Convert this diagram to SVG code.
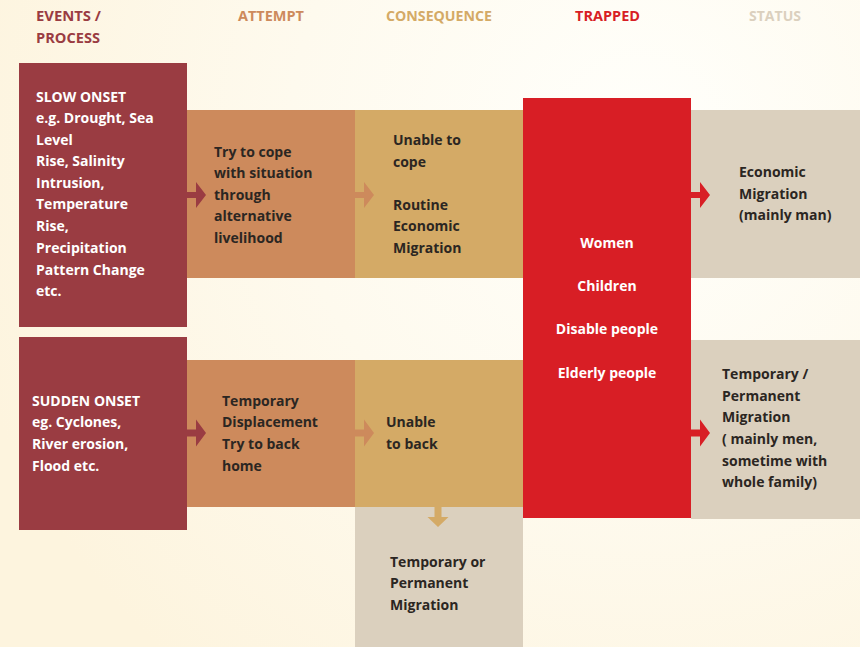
<svg xmlns="http://www.w3.org/2000/svg" width="860" height="647" viewBox="0 0 860 647">
  <defs>
    <radialGradient id="bg" cx="640" cy="140" r="700" gradientUnits="userSpaceOnUse">
      <stop offset="0" stop-color="#FFFFFB"/>
      <stop offset="0.5" stop-color="#FEFAEE"/>
      <stop offset="1" stop-color="#FDF4DE"/>
    </radialGradient>
  </defs>
  <style>
    text { font-family: "Open Sans", "DejaVu Sans", sans-serif; font-weight: 700; font-size: 14px; }
    .head { font-size: 14px; }
    .dark { fill: #2B2622; }
    .light { fill: #FFFFFF; }
    .c-event { fill: #9A3C42; }
    .c-attempt { fill: #CD8A5C; }
    .c-conseq { fill: #D4AA66; }
    .c-trap { fill: #D81E25; }
    .c-status { fill: #DBD0BE; }
  </style>

  <rect width="860" height="647" fill="url(#bg)"/>

  <!-- column headings -->
  <g id="headings" class="head">
    <text class="c-event" x="36" y="21" textLength="65" lengthAdjust="spacingAndGlyphs">EVENTS /</text>
    <text class="c-event" x="36" y="43" textLength="64" lengthAdjust="spacingAndGlyphs">PROCESS</text>
    <text class="c-attempt" x="238" y="21" textLength="66" lengthAdjust="spacingAndGlyphs">ATTEMPT</text>
    <text class="c-conseq" x="386" y="21" textLength="106" lengthAdjust="spacingAndGlyphs">CONSEQUENCE</text>
    <text class="c-trap" x="575" y="21" textLength="65" lengthAdjust="spacingAndGlyphs">TRAPPED</text>
    <text class="c-status" x="749" y="21" textLength="52" lengthAdjust="spacingAndGlyphs">STATUS</text>
  </g>

  <!-- boxes -->
  <g id="status-top">
    <rect class="c-status" x="691" y="110" width="169" height="168"/>
    <text class="dark" x="739" y="177">Economic</text>
    <text class="dark" x="739" y="199">Migration</text>
    <text class="dark" x="739" y="220">(mainly man)</text>
  </g>
  <g id="status-bottom">
    <rect class="c-status" x="691" y="340" width="169" height="179"/>
    <text class="dark" x="722" y="379">Temporary /</text>
    <text class="dark" x="722" y="401">Permanent</text>
    <text class="dark" x="722" y="422">Migration</text>
    <text class="dark" x="722" y="444">( mainly men,</text>
    <text class="dark" x="722" y="466">sometime with</text>
    <text class="dark" x="722" y="487">whole family)</text>
  </g>
  <g id="slow-onset">
    <rect class="c-event" x="19" y="63" width="168" height="264"/>
    <text class="light" x="36" y="102">SLOW ONSET</text>
    <text class="light" x="36" y="123">e.g. Drought, Sea</text>
    <text class="light" x="36" y="145">Level</text>
    <text class="light" x="36" y="166">Rise, Salinity</text>
    <text class="light" x="36" y="188">Intrusion,</text>
    <text class="light" x="36" y="209">Temperature</text>
    <text class="light" x="36" y="231">Rise,</text>
    <text class="light" x="36" y="253">Precipitation</text>
    <text class="light" x="36" y="275">Pattern Change</text>
    <text class="light" x="36" y="296">etc.</text>
  </g>
  <g id="sudden-onset">
    <rect class="c-event" x="19" y="337" width="168" height="193"/>
    <text class="light" x="32" y="406">SUDDEN ONSET</text>
    <text class="light" x="32" y="427">eg. Cyclones,</text>
    <text class="light" x="32" y="449">River erosion,</text>
    <text class="light" x="32" y="471">Flood etc.</text>
  </g>
  <g id="attempt-top">
    <rect class="c-attempt" x="187" y="110" width="168" height="168"/>
    <text class="dark" x="214" y="157">Try to cope</text>
    <text class="dark" x="214" y="178">with situation</text>
    <text class="dark" x="214" y="200">through</text>
    <text class="dark" x="214" y="221">alternative</text>
    <text class="dark" x="214" y="243">livelihood</text>
  </g>
  <g id="attempt-bottom">
    <rect class="c-attempt" x="187" y="360" width="168" height="147"/>
    <text class="dark" x="222" y="406">Temporary</text>
    <text class="dark" x="222" y="427">Displacement</text>
    <text class="dark" x="222" y="449">Try to back</text>
    <text class="dark" x="222" y="471">home</text>
  </g>
  <g id="consequence-top">
    <rect class="c-conseq" x="355" y="110" width="168" height="168"/>
    <text class="dark" x="393" y="145">Unable to</text>
    <text class="dark" x="393" y="167">cope</text>
    <text class="dark" x="393" y="210">Routine</text>
    <text class="dark" x="393" y="231">Economic</text>
    <text class="dark" x="393" y="253">Migration</text>
  </g>
  <g id="consequence-bottom">
    <rect class="c-conseq" x="355" y="360" width="168" height="147"/>
    <text class="dark" x="386" y="427">Unable</text>
    <text class="dark" x="386" y="449">to back</text>
  </g>
  <g id="temporary-or-permanent">
    <rect class="c-status" x="355" y="507" width="168" height="140"/>
    <text class="dark" x="390" y="567">Temporary or</text>
    <text class="dark" x="390" y="588">Permanent</text>
    <text class="dark" x="390" y="610">Migration</text>
  </g>
  <g id="trapped">
    <rect class="c-trap" x="523" y="98" width="168" height="420"/>
    <g class="light" text-anchor="middle">
      <text x="607" y="248">Women</text>
      <text x="607" y="291">Children</text>
      <text x="607" y="334">Disable people</text>
      <text x="607" y="378">Elderly people</text>
    </g>
  </g>

  <!-- connectors -->
  <g id="connectors">
    <path class="c-event" d="M187 192h9v-10l10 13-10 13v-10h-9z"/>
    <path class="c-attempt" d="M355 192h9v-10l10 13-10 13v-10h-9z"/>
    <path class="c-trap" d="M691 192h9v-10l10 13-10 13v-10h-9z"/>
    <path class="c-event" d="M187 429.5h9v-10l10 13.5-10 13.5v-10h-9z"/>
    <path class="c-attempt" d="M355 429.5h9v-10l10 13.5-10 13.5v-10h-9z"/>
    <path class="c-trap" d="M691 429.5h9v-10l10 13.5-10 13.5v-10h-9z"/>
    <path class="c-conseq" d="M434.5 507h7v10h7l-10.5 10-10.5-10h7z"/>
  </g>
</svg>
